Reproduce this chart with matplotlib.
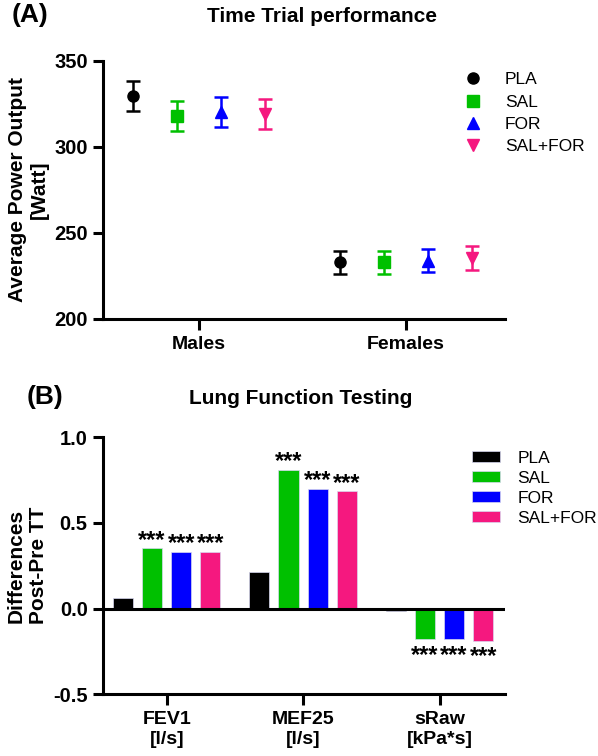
import numpy as np
import matplotlib.pyplot as plt
from matplotlib.patches import Patch
from matplotlib.lines import Line2D

plt.rcParams['font.family'] = ['Liberation Sans', 'DejaVu Sans']

# Panel A data: average power output [Watt], mean and error
groups = ['PLA', 'SAL', 'FOR', 'SAL+FOR']
sexes = ['Males', 'Females']
power_mean = {
    'PLA': [329.5, 233.0],
    'SAL': [318.0, 233.0],
    'FOR': [320.5, 234.0],
    'SAL+FOR': [319.0, 235.4],
}
power_err = {
    'PLA': [8.7, 6.7],
    'SAL': [8.5, 6.7],
    'FOR': [8.7, 6.5],
    'SAL+FOR': [8.7, 6.8],
}

# Panel B data: differences post-pre TT
tests = ['FEV1\n[l/s]', 'MEF25\n[l/s]', 'sRaw\n[kPa*s]']
lung_diff = {
    'PLA': [0.064, 0.212, -0.012],
    'SAL': [0.353, 0.810, -0.179],
    'FOR': [0.333, 0.699, -0.179],
    'SAL+FOR': [0.333, 0.687, -0.187],
}
lung_sig = {
    'PLA': ['', '', ''],
    'SAL': ['***', '***', '***'],
    'FOR': ['***', '***', '***'],
    'SAL+FOR': ['***', '***', '***'],
}

colors = {'PLA': '#000000', 'SAL': '#00c000', 'FOR': '#0000ff', 'SAL+FOR': '#f5187f'}
markers = {'PLA': 'o', 'SAL': 's', 'FOR': '^', 'SAL+FOR': 'v'}

W, H = 598, 756
fig = plt.figure(figsize=(W / 100, H / 100), dpi=100)


def style_axes(ax):
    for s in ['top', 'right']:
        ax.spines[s].set_visible(False)
    for s in ['left', 'bottom']:
        ax.spines[s].set_linewidth(2.2)
    ax.tick_params(axis='y', width=2.2, length=7, labelsize=14.5, pad=4)
    ax.tick_params(axis='x', width=2.2, length=8, labelsize=14, pad=4)
    for lab in ax.get_xticklabels() + ax.get_yticklabels():
        lab.set_fontweight('bold')


# ---------- Panel A ----------
axA = fig.add_axes([103 / W, 1 - 319 / H, (505 - 103) / W, (319 - 61) / H])
offsetsA = [-0.32, -0.106, 0.106, 0.32]
xA = np.arange(len(sexes))
for g, off in zip(groups, offsetsA):
    axA.errorbar(xA + off, power_mean[g], yerr=power_err[g], fmt=markers[g],
                 color=colors[g], markersize=8, elinewidth=1.8, capsize=5,
                 capthick=1.8)
axA.set_xlim(-0.464, 1.478)
axA.set_ylim(200, 350)
axA.set_yticks([200, 250, 300, 350])
axA.set_xticks(xA)
axA.set_xticklabels(sexes)
axA.set_ylabel('Average Power Output\n[Watt]', fontsize=15, fontweight='bold',
               labelpad=4)
style_axes(axA)

handlesA = [Line2D([], [], marker=markers[g], color=colors[g], linestyle='none',
                   markersize=8) for g in groups]
fig.legend(handlesA, groups, loc='upper left',
           bbox_to_anchor=(464 / W, 1 - 72 / H), frameon=False, fontsize=12.5,
           handlelength=1.0, handletextpad=1.35, labelspacing=0.42,
           borderpad=0, borderaxespad=0)

fig.text(322 / W, 1 - 17 / H, 'Time Trial performance', fontsize=15,
         fontweight='bold', ha='center', va='center')
fig.text(12 / W, 1 - 15 / H, '(A)', fontsize=19, fontweight='bold',
         ha='left', va='center')

# ---------- Panel B ----------
axB = fig.add_axes([103 / W, 1 - 694.3 / H, (505 - 103) / W, (694.3 - 437.3) / H])
offsetsB = [-0.32, -0.107, 0.107, 0.32]
bar_w = 0.147
xB = np.arange(len(tests))
for g, off in zip(groups, offsetsB):
    vals = lung_diff[g]
    axB.bar(xB + off, vals, width=bar_w, color=colors[g], edgecolor='#d8d8f0',
            linewidth=0.5, zorder=2)
    for xi, v, s in zip(xB + off, vals, lung_sig[g]):
        if not s:
            continue
        dy = 1 if v > 0 else -16
        axB.annotate(s, (xi, v), xytext=(0, dy), textcoords='offset points',
                     ha='center', va='baseline', fontsize=17, fontweight='bold')
axB.axhline(0, color='black', linewidth=2.2, zorder=3)
axB.set_xlim(-0.467, 2.48)
axB.set_ylim(-0.5, 1.0)
axB.set_yticks([-0.5, 0.0, 0.5, 1.0])
axB.set_yticklabels(['-0.5', '0.0', '0.5', '1.0'])
axB.set_xticks(xB)
axB.set_xticklabels(tests)
axB.set_ylabel('Differences\nPost-Pre TT', fontsize=15, fontweight='bold',
               labelpad=4)
style_axes(axB)

handlesB = [Patch(facecolor=colors[g], edgecolor='#d8d8f0', linewidth=0.5)
            for g in groups]
fig.legend(handlesB, groups, loc='upper left',
           bbox_to_anchor=(472 / W, 1 - 451 / H), frameon=False, fontsize=12.5,
           handlelength=1.6, handleheight=0.6, handletextpad=1.0,
           labelspacing=0.28, borderpad=0, borderaxespad=0)

fig.text(301 / W, 1 - 398 / H, 'Lung Function Testing', fontsize=15,
         fontweight='bold', ha='center', va='center')
fig.text(27 / W, 1 - 397 / H, '(B)', fontsize=19, fontweight='bold',
         ha='left', va='center')

fig.savefig('out.png', dpi=100)
